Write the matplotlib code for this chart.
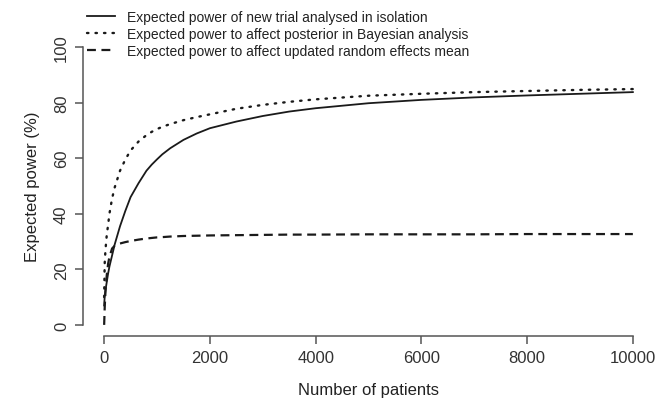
import matplotlib
matplotlib.use('Agg')
import matplotlib.pyplot as plt

plt.rcParams['font.family'] = ['Liberation Sans', 'DejaVu Sans']

# Number of patients in the new trial
patients = [0, 10, 25, 50, 75, 100, 150, 200, 300, 400, 500, 650, 800, 900,
            1000, 1100, 1250, 1500, 1750, 2000, 2500, 3000, 3500, 4000, 5000,
            6000, 7000, 8000, 9000, 10000]

# Expected power (%)
power_isolation = [7, 10, 12.5, 15.5, 18.5, 21, 25, 29, 35.5, 41, 46, 51, 55.5,
                   57.7, 59.6, 61.4, 63.6, 66.6, 68.9, 70.8, 73.2, 75.2, 76.8,
                   78, 79.8, 81, 81.9, 82.6, 83.2, 83.8]
power_bayes = [10, 22, 27, 32.5, 36, 40, 45.5, 49.5, 55.5, 59.5, 62.8, 66,
               68.3, 69.5, 70.5, 71.3, 72.3, 73.7, 74.8, 75.8, 77.8, 79.2,
               80.3, 81.2, 82.5, 83.2, 83.8, 84.2, 84.6, 84.9]
power_re_mean = [0, 6, 12, 18, 22, 24.5, 27.5, 28.5, 29.3, 29.8, 30.2, 30.7,
                 31.1, 31.3, 31.5, 31.6, 31.8, 32.0, 32.1, 32.2, 32.3, 32.4,
                 32.5, 32.5, 32.6, 32.6, 32.6, 32.7, 32.7, 32.7]

labels = ['Expected power of new trial analysed in isolation',
          'Expected power to affect posterior in Bayesian analysis',
          'Expected power to affect updated random effects mean']

fig = plt.figure(figsize=(6.59, 4.06), dpi=100)
ax = fig.add_axes([83 / 659, 1 - 337 / 406, 571 / 659, 300 / 406])

line_col = '#1a1a1a'
ax.plot(patients, power_isolation, color=line_col, lw=1.3, label=labels[0])
ax.plot(patients, power_bayes, color=line_col, lw=1.7, linestyle=(0, (0.6, 3.0)),
        dash_capstyle='round', label=labels[1])
ax.plot(patients, power_re_mean, color=line_col, lw=1.6, linestyle=(0, (4, 2.5)),
        label=labels[2])

# R-style detached axes
ax.set_xlim(-400, 10400)
ax.set_ylim(-4, 104)
for s in ['top', 'right']:
    ax.spines[s].set_visible(False)
ax.spines['left'].set_bounds(0, 100)
ax.spines['bottom'].set_bounds(0, 10000)
for s in ['left', 'bottom']:
    ax.spines[s].set_color('#555555')
    ax.spines[s].set_linewidth(1.1)

ax.set_xticks([0, 2000, 4000, 6000, 8000, 10000])
ax.set_yticks([0, 20, 40, 60, 80, 100])
ax.tick_params(axis='both', length=6, width=1.1, color='#555555',
               labelsize=12, labelcolor='#333333', pad=4)
for lab in ax.get_yticklabels():
    lab.set_rotation(90)
    lab.set_va('center')

ax.set_xlabel('Number of patients', fontsize=12, color='#222222', labelpad=12)
ax.set_ylabel('Expected power (%)', fontsize=12, color='#222222', labelpad=10)

ax.legend(loc='upper left', bbox_to_anchor=(87 / 659, 1 - 11 / 406),
          bbox_transform=fig.transFigure, frameon=False, fontsize=10,
          handlelength=2.0, handletextpad=0.9, labelspacing=0.22,
          borderpad=0, borderaxespad=0, labelcolor='#222222')

fig.savefig('out.png', dpi=100)
